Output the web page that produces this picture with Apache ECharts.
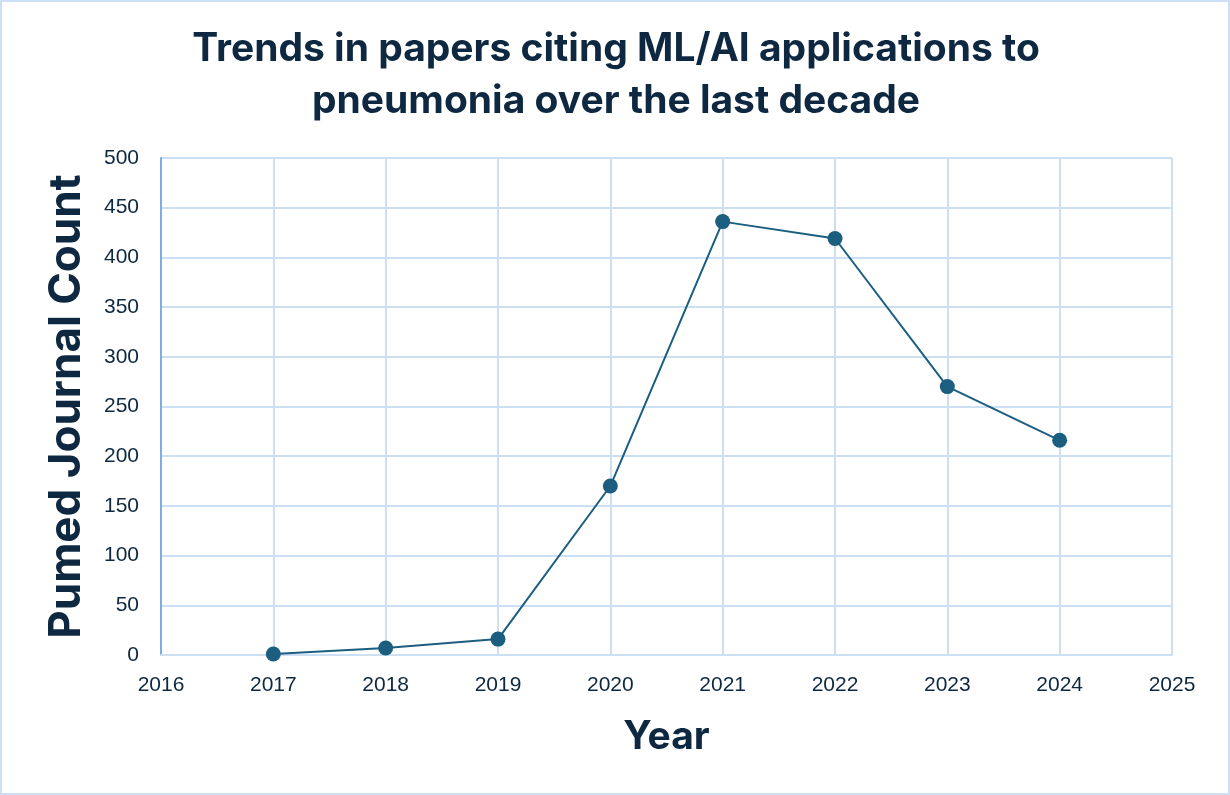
<!DOCTYPE html>
<html><head><meta charset="utf-8">
<script src="https://cdn.jsdelivr.net/npm/echarts@6/dist/echarts.min.js"></script>
<style>html,body{margin:0;padding:0;background:#fff}#c{width:1230px;height:795px;box-sizing:border-box;border:2px solid #CCDFF3}</style>
</head><body><div id="c"></div>
<script>
const years = [2017, 2018, 2019, 2020, 2021, 2022, 2023, 2024];
const counts = [1, 7, 16, 170, 436, 419, 270, 216];
const titleText = 'Trends in papers citing ML/AI applications to\npneumonia over the last decade';
const xName = 'Year';
const yName = 'Pumed Journal Count';

const chart = echarts.init(document.getElementById('c'), null, {renderer: 'canvas'});
const dark = '#0E2841';
const grid = '#CCDFF3';
chart.setOption({
  animation: false,
  title: {
    text: titleText, left: 609, textAlign: 'center', top: 16,
    textStyle: {fontFamily: 'Inter', fontWeight: 'bold', fontSize: 39, color: dark, lineHeight: 52}
  },
  grid: {left: 159, right: 56, top: 156, bottom: 138},
  xAxis: {
    type: 'value', min: 2016, max: 2025, interval: 1,
    name: xName, nameLocation: 'middle', nameGap: 63,
    nameTextStyle: {fontFamily: 'Inter', fontWeight: 'bold', fontSize: 39, color: dark},
    axisLine: {show: true, lineStyle: {color: grid, width: 2}},
    axisTick: {show: false},
    axisLabel: {fontFamily: 'Liberation Sans', fontSize: 21, color: dark, margin: 20, formatter: v => String(v)},
    splitLine: {show: true, lineStyle: {color: grid, width: 2}}
  },
  yAxis: {
    type: 'value', min: 0, max: 500, interval: 50,
    name: yName, nameLocation: 'middle', nameGap: 72, nameRotate: 90,
    nameTextStyle: {fontFamily: 'Inter', fontWeight: 'bold', fontSize: 44, color: dark},
    axisLine: {show: true, lineStyle: {color: '#7DAEE3', width: 2}},
    axisTick: {show: false},
    axisLabel: {fontFamily: 'Liberation Sans', fontSize: 21, color: dark, margin: 22},
    splitLine: {show: true, lineStyle: {color: grid, width: 2}}
  },
  series: [{
    type: 'line',
    data: years.map((y, i) => [y, counts[i]]),
    symbol: 'circle', symbolSize: 15,
    lineStyle: {color: '#1B5E80', width: 2},
    itemStyle: {color: '#1B5E80'}
  }]
});
</script></body></html>
